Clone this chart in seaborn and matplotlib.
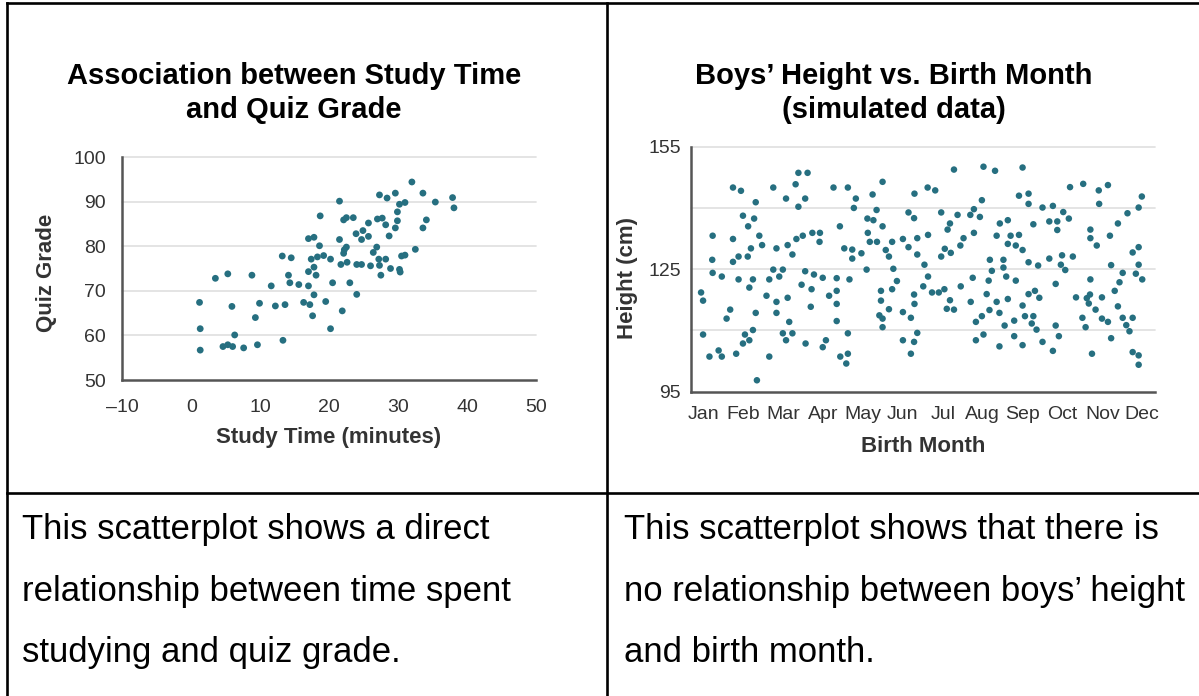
import matplotlib
matplotlib.use('Agg')
import matplotlib.pyplot as plt
import seaborn as sns
from matplotlib.lines import Line2D

# Dados do grafico da esquerda (tempo de estudo x nota do quiz)
study_minutes = [1.2, 1.3, 1.3, 3.5, 5.3, 5.9, 6.3, 4.6, 5.3, 6.0, 7.6, 8.8, 9.9, 9.3, 9.6,
                 11.6, 12.2, 13.2, 14.5, 13.6, 13.3, 14.1, 14.3, 15.6, 17.0, 16.3, 17.2, 17.6,
                 20.2, 17.0, 17.8, 18.6, 18.7, 17.4, 18.3, 19.2, 20.2, 17.8, 17.0, 18.1, 17.8,
                 19.5, 20.5,
                 21.5, 32.0, 27.3, 28.4, 29.6, 33.6, 30.2, 31.0, 29.9, 35.4, 37.9, 38.1, 34.1,
                 33.6, 29.9, 29.6, 22.1, 22.5, 23.5, 27.0, 27.7, 25.7, 28.2, 23.9, 24.9, 24.7,
                 25.7, 28.7, 21.5, 22.5, 22.2, 22.1, 26.9, 26.4, 32.5, 21.7, 22.6, 24.0, 24.7,
                 26.0, 27.2, 28.2, 27.3, 27.5, 28.9, 30.2, 30.3, 30.5, 31.0, 23.0, 24.0, 21.9]
quiz_grades = [67.4, 61.5, 56.7, 72.8, 73.8, 66.5, 60.1, 57.5, 57.9, 57.5, 57.2, 73.5, 67.2, 64.0, 57.9,
               71.1, 66.6, 77.8, 77.4, 66.9, 58.9, 73.5, 71.8, 71.4, 71.1, 67.4, 66.9, 64.4,
               61.5, 81.7, 82.0, 80.1, 86.8, 77.1, 77.6, 77.9, 77.1, 75.3, 74.3, 73.5, 69.1,
               67.6, 71.8,
               90.1, 94.4, 91.5, 90.8, 91.9, 91.9, 89.4, 89.8, 87.7, 89.9, 90.9, 88.6, 85.9,
               84.1, 85.7, 84.1, 85.9, 86.4, 86.4, 86.1, 86.3, 85.2, 84.8, 82.8, 83.5, 81.5,
               82.2, 82.3, 81.5, 79.8, 79.2, 78.4, 79.8, 78.6, 79.3, 75.9, 76.4, 75.9, 75.9,
               75.6, 77.1, 77.1, 75.7, 73.5, 75.0, 74.8, 74.2, 77.8, 78.0, 71.8, 69.2, 65.5]

# Dados do grafico da direita (mes de nascimento x altura)
birth_month = [0.94, 0.99, 1.23, 1.22, 1.23, 1.46, 0.99, 1.15, 1.38, 1.46, 1.58, 1.67, 1.74, 1.94,
               1.99, 2.12, 2.27, 2.31, 1.74, 1.74, 1.88, 2.11, 2.19, 2.40, 2.47, 1.88, 2.15, 2.24,
               2.31, 1.82, 1.99, 2.04, 2.15, 2.24, 2.34, 2.75, 2.83, 2.75, 2.65, 2.58, 2.83, 2.83,
               2.65, 3.07, 3.31, 3.38, 3.61, 3.55, 3.38, 3.11, 3.23, 3.33, 3.49, 2.99, 2.90, 3.11,
               3.15, 2.99, 3.07, 3.23, 3.46, 3.55, 3.71, 3.69, 3.56, 3.73, 3.92, 3.91, 3.77, 3.99,
               4.15, 3.99, 4.07, 4.26, 4.42, 4.34, 4.34, 4.34, 4.34, 4.62, 4.82, 4.77, 4.53, 4.73,
               4.73, 4.96, 4.66, 4.62, 4.43, 4.62, 4.58, 5.09, 5.11, 5.12, 5.17, 5.24, 5.34, 5.26,
               5.35, 5.49, 5.49, 5.57, 5.65, 5.73, 5.76, 5.85, 5.73, 5.45, 5.45, 5.65, 5.41, 5.49,
               5.49, 6.00, 6.14, 6.29, 6.28, 6.14, 6.36, 6.36, 6.28, 6.29, 6.00, 6.20, 6.36, 6.00,
               6.28, 6.20,
               6.62, 6.81, 6.96, 6.63, 6.54, 6.63, 6.51, 6.73, 6.90, 7.04, 6.96, 7.05, 7.12, 7.18,
               7.20, 7.37, 7.44, 7.52, 7.28, 7.69, 7.78, 7.98, 7.93, 8.02, 8.31, 7.78, 7.75, 7.45,
               7.18, 7.10, 7.28, 7.70, 7.83, 7.98, 7.83, 8.02, 8.10, 8.15, 8.23, 8.18, 8.17, 8.35,
               8.42, 8.55, 8.42, 8.35, 8.43, 8.63, 8.70, 8.63, 8.52, 8.52, 8.59, 8.63, 8.79, 8.79,
               8.83, 8.91, 9.00, 8.83, 9.00, 9.06, 9.00, 8.91, 9.00, 9.15, 9.15, 9.27, 9.15, 9.15,
               9.31, 9.42, 9.39, 9.23, 9.27, 9.35, 9.50, 9.76, 9.67, 9.87, 9.87, 10.02, 10.16, 9.67,
               9.99, 9.96, 10.07, 10.26, 9.83, 9.83, 9.91, 9.50, 9.76, 10.19, 10.52, 10.91, 10.92,
               11.14, 10.70, 10.70, 10.86, 11.19, 11.39, 11.63, 11.91, 11.99, 10.34, 10.61, 10.69,
               10.70, 10.66, 10.83, 10.50, 10.58, 10.74, 10.99, 10.99, 11.14, 11.22, 11.22, 11.31,
               11.39, 11.43, 11.51, 11.51, 11.60, 11.68, 11.76, 11.76, 11.91, 11.91, 11.84, 12.00,
               11.76, 11.91, 11.91]
height_cm = [119.3, 117.3, 133.2, 127.3, 124.1, 123.2, 109.0, 103.6, 105.1, 103.6, 112.9, 115.1, 145.0, 144.2,
             138.1, 135.5, 137.4, 141.4, 132.4, 126.8, 128.1, 128.1, 130.1, 133.2, 130.9, 122.5, 120.5, 122.5,
             114.3, 104.3, 106.8, 109.0, 107.6, 110.1, 97.8, 145.0, 130.1, 124.9, 122.5, 118.5, 117.0, 114.3,
             103.6, 142.3, 145.8, 148.6, 148.6, 142.3, 140.3, 130.9, 128.6, 132.4, 133.2, 124.9, 123.2, 118.0,
             112.1, 109.3, 107.6, 109.3, 121.2, 124.5, 120.1, 115.8, 106.8, 133.9, 133.9, 131.7, 123.7, 122.9,
             118.5, 105.9, 107.6, 145.0, 135.5, 122.8, 119.7, 116.5, 112.3, 145.0, 142.3, 140.0, 130.1, 129.8,
             127.6, 128.9, 122.5, 109.3, 103.6, 104.3, 101.9, 124.9, 137.4, 133.9, 131.7, 143.3, 139.5, 137.0,
             131.7, 146.4, 135.5, 129.7, 128.1, 131.7, 125.1, 122.1, 120.1, 119.7, 117.3, 115.2, 113.7, 112.9,
             110.8, 132.4, 138.9, 143.5, 137.5, 130.4, 132.6, 128.6, 118.8, 116.5, 114.5, 113.1, 109.4, 107.6,
             107.2, 104.3,
             145.0, 144.3, 138.9, 133.4, 126.1, 123.2, 120.8, 119.3, 119.3, 120.1, 128.1, 130.0, 134.7, 136.2,
             129.0, 138.3, 130.8, 132.6, 149.4, 138.3, 139.7, 141.9, 137.8, 150.1, 149.1, 133.9, 122.9, 120.8,
             117.4, 115.3, 115.1, 117.0, 112.1, 113.5, 107.6, 109.0, 118.9, 122.2, 124.6, 127.3, 115.0, 117.0,
             114.3, 111.2, 106.1, 133.2, 136.2, 137.0, 133.2, 131.2, 127.3, 125.4, 123.2, 117.7, 112.4, 108.6,
             130.8, 133.4, 129.7, 122.2, 116.1, 113.5, 106.4, 143.0, 149.9, 143.5, 141.0, 136.0, 126.7, 118.9,
             119.7, 118.0, 125.9, 111.7, 113.5, 110.2, 140.1, 140.5, 136.7, 136.7, 134.6, 139.0, 137.4, 127.6,
             128.4, 126.1, 124.8, 128.1, 121.4, 111.2, 108.6, 107.2, 105.0, 145.1, 145.9, 144.3, 141.0,
             145.6, 134.7, 132.6, 130.8, 133.2, 136.2, 138.7, 140.1, 142.8, 118.1, 117.9, 118.8,
             122.5, 116.6, 115.1, 113.1, 110.8, 104.3, 118.1, 112.9, 112.1, 126.0, 108.1, 119.7,
             115.9, 121.8, 124.1, 113.1, 111.3, 109.8, 113.1, 129.1, 130.4, 126.1, 123.9, 122.5,
             104.7, 103.9, 101.6]

month_numbers = list(range(1, 13))
month_labels = ['Jan', 'Feb', 'Mar', 'Apr', 'May', 'Jun', 'Jul', 'Aug', 'Sep', 'Oct', 'Nov', 'Dec']
study_ticks = [-10, 0, 10, 20, 30, 40, 50]
study_tick_labels = ['\u201310', '0', '10', '20', '30', '40', '50']
grade_ticks = [50, 60, 70, 80, 90, 100]
height_ticks = [95, 125, 155]
height_grid = [110, 125, 140, 155]

left_title = ['Association between Study Time', 'and Quiz Grade']
right_title = ['Boys\u2019 Height vs. Birth Month', '(simulated data)']
left_caption = ['This scatterplot shows a direct',
                'relationship between time spent',
                'studying and quiz grade.']
right_caption = ['This scatterplot shows that there is',
                 'no relationship between boys\u2019 height',
                 'and birth month.']

# Estilo
sns.set_style('white')
plt.rcParams['font.family'] = ['Liberation Sans', 'DejaVu Sans']

W, H = 1199, 696
DOT = '#266f80'
SPINE = '#555555'
GRID = '#e2e2e2'
TXT = '#333333'

fig = plt.figure(figsize=(W / 100, H / 100), dpi=100)


def fx(x):
    return x / W


def fy(y):
    return 1 - y / H


def rect(x0, y0, x1, y1):
    return [fx(x0), fy(y1), (x1 - x0) / W, (y1 - y0) / H]


def estilo_eixos(ax, linhas_grade):
    for lado in ['top', 'right']:
        ax.spines[lado].set_visible(False)
    for lado in ['left', 'bottom']:
        ax.spines[lado].set_color(SPINE)
        ax.spines[lado].set_linewidth(1.8)
        ax.spines[lado].set_zorder(3)
    ax.grid(False)
    for v in linhas_grade:
        ax.axhline(v, color=GRID, linewidth=1.3, clip_on=False, zorder=0)
    ax.set_xlabel('')
    ax.set_ylabel('')


# Grafico da esquerda
ax1 = fig.add_axes(rect(122.3, 157, 536, 380))
sns.scatterplot(x=study_minutes, y=quiz_grades, ax=ax1, color=DOT, s=24,
                edgecolor='none', linewidth=0, zorder=2)
ax1.set_xlim(-10, 50)
ax1.set_ylim(50, 100)
ax1.set_xticks(study_ticks)
ax1.set_xticklabels(study_tick_labels)
ax1.set_yticks(grade_ticks)
estilo_eixos(ax1, grade_ticks[1:])
ax1.tick_params(axis='x', direction='out', length=6, width=1.8, color=SPINE, pad=8,
                labelsize=14, labelcolor=TXT)
ax1.tick_params(axis='y', length=0, pad=12, labelsize=14, labelcolor=TXT)

# Grafico da direita
ax2 = fig.add_axes(rect(690.7, 146.7, 1155, 391.7))
sns.scatterplot(x=birth_month, y=height_cm, ax=ax2, color=DOT, s=22,
                edgecolor='none', linewidth=0, zorder=2)
ax2.set_xlim(0.68, 12.32)
ax2.set_ylim(95, 155)
ax2.set_xticks(month_numbers)
ax2.set_xticklabels(month_labels)
ax2.set_yticks(height_ticks)
estilo_eixos(ax2, height_grid)
ax2.tick_params(axis='x', direction='out', length=5, width=1.8, color=SPINE, pad=5,
                labelsize=14, labelcolor=TXT)
ax2.tick_params(axis='y', length=0, pad=7, labelsize=14, labelcolor=TXT)

# Titulos
for i, linha in enumerate(left_title):
    fig.text(fx(294), fy(84 + 34 * i), linha, ha='center', va='baseline',
             fontsize=21, fontweight='bold', color='black')
for i, linha in enumerate(right_title):
    fig.text(fx(894), fy(84 + 34 * i), linha, ha='center', va='baseline',
             fontsize=21, fontweight='bold', color='black')

# Rotulos dos eixos
fig.text(fx(329), fy(438), 'Study Time (minutes)', ha='center', va='center',
         fontsize=16, fontweight='bold', color=TXT)
fig.text(fx(46.7), fy(273), 'Quiz Grade', ha='center', va='center', rotation=90,
         fontsize=16, fontweight='bold', color=TXT)
fig.text(fx(923), fy(447), 'Birth Month', ha='center', va='center',
         fontsize=16, fontweight='bold', color=TXT)
fig.text(fx(628), fy(278), 'Height (cm)', ha='center', va='center', rotation=90,
         fontsize=16, fontweight='bold', color=TXT)

# Legendas em baixo
for i, linha in enumerate(left_caption):
    fig.text(fx(22), fy(539 + 61.5 * i), linha, ha='left', va='baseline',
             fontsize=25, color='black')
for i, linha in enumerate(right_caption):
    fig.text(fx(624), fy(539 + 61.5 * i), linha, ha='left', va='baseline',
             fontsize=25, color='black')

# Bordas da tabela
bordas = [
    ((6.5, 2.5), (1199, 2.5)),
    ((6.5, 2.5), (6.5, 696)),
    ((607, 2.5), (607, 696)),
    ((6.5, 493), (1199, 493)),
]
for (x0, y0), (x1, y1) in bordas:
    fig.add_artist(Line2D([fx(x0), fx(x1)], [fy(y0), fy(y1)], color='black',
                          linewidth=1.9, solid_capstyle='projecting'))

fig.savefig('out.png', dpi=100)
plt.close(fig)
